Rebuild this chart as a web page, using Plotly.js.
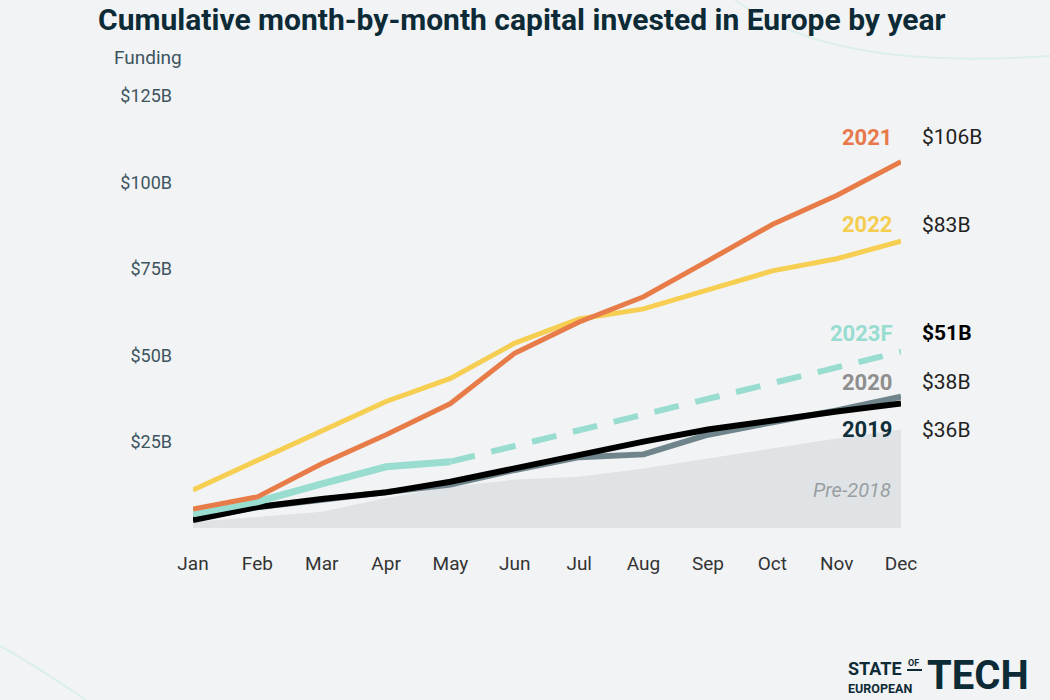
<!DOCTYPE html>
<html>
<head>
<meta charset="utf-8">
<script src="https://cdn.plot.ly/plotly-3.0.1.min.js"></script>
<style>
  html, body { margin:0; padding:0; background:#f2f3f5; }
  #wrap { position:relative; width:1050px; height:700px; }
  #deco { position:absolute; left:0; top:0; }
  #chart { position:absolute; left:0; top:0; width:1050px; height:700px; }
</style>
</head>
<body>
<div id="wrap">
  <svg id="deco" width="1050" height="700">
    <path d="M 735 0 C 800 48, 900 66, 1050 56" stroke="#dcefea" stroke-width="2" fill="none"/>
    <path d="M 0 646 C 30 662, 62 684, 86 700" stroke="#dcefea" stroke-width="2" fill="none"/>
  </svg>
  <div id="chart"></div>
</div>
<script>
const months = ['Jan','Feb','Mar','Apr','May','Jun','Jul','Aug','Sep','Oct','Nov','Dec'];

const pre2018 = [1.7, 3.2, 4.7, 8.7, 11.9, 14.0, 14.8, 17.2, 20.1, 23.0, 25.9, 28.5];
const y2019 = [2.3, 6.1, 8.4, 10.3, 13.4, 17.4, 21.3, 25.0, 28.5, 31.3, 33.7, 36];
const y2020 = [2.6, 6.0, 8.2, 10.3, 12.6, 16.8, 20.5, 21.3, 27.0, 30.6, 34.0, 38];
const y2021 = [5.5, 9.0, 18.6, 27.0, 36.0, 50.6, 59.6, 66.9, 77.3, 87.8, 96.2, 106];
const y2022 = [11.0, 19.5, 27.9, 36.6, 43.3, 53.5, 60.5, 63.4, 68.9, 74.4, 77.9, 83];
const months2023 = ['Jan','Feb','Mar','Apr','May'];
const y2023 = [4.1, 7.6, 12.8, 17.7, 19.2];
const months2023F = ['May','Dec'];
const y2023F = [19.2, 51];

const yTickVals = [25, 50, 75, 100, 125];
const yTickText = ['$25B', '$50B', '$75B', '$100B', '$125B'];

const endLabels = [
  {year:'2021', value:'$106B', color:'#e8784a', y:113.1, bold:false},
  {year:'2022', value:'$83B', color:'#f5cd4f', y:87.7, bold:false},
  {year:'2023F', value:'$51B', color:'#98ddd0', y:56.4, bold:true},
  {year:'2020', value:'$38B', color:'#8e8e8e', y:42.2, bold:false},
  {year:'2019', value:'$36B', color:'#0f2f3a', y:28.4, bold:false}
];

const traces = [
  {x: months, y: pre2018, type:'scatter', mode:'lines', fill:'tozeroy',
   fillcolor:'#dfe3e5', line:{width:0, color:'#dfe3e5'}, hoverinfo:'skip'},
  {x: months, y: y2020, type:'scatter', mode:'lines', line:{color:'#6f858b', width:6}, hoverinfo:'skip'},
  {x: months, y: y2019, type:'scatter', mode:'lines', line:{color:'#000000', width:6}, hoverinfo:'skip'},
  {x: months2023, y: y2023, type:'scatter', mode:'lines', line:{color:'#98ddd0', width:7}, hoverinfo:'skip'},
  {x: months2023F, y: y2023F, type:'scatter', mode:'lines', line:{color:'#98ddd0', width:6, dash:'25px,17px'}, hoverinfo:'skip'},
  {x: months, y: y2022, type:'scatter', mode:'lines', line:{color:'#f6cf52', width:5}, hoverinfo:'skip'},
  {x: months, y: y2021, type:'scatter', mode:'lines', line:{color:'#e87c48', width:5}, hoverinfo:'skip'}
];

const annotations = [];
endLabels.forEach(l => {
  annotations.push({xref:'paper', yref:'y', x:1, y:l.y, xanchor:'right', yanchor:'middle', xshift:-6,
    text:'<b>'+l.year+'</b>', showarrow:false, font:{family:'Roboto, sans-serif', size:22, color:l.color}});
  annotations.push({xref:'paper', yref:'y', x:1, y:l.y, xanchor:'left', yanchor:'middle', xshift:19,
    text: l.bold ? '<b>'+l.value+'</b>' : l.value, showarrow:false,
    font:{family:'Roboto, sans-serif', size:21, color: l.bold ? '#000000' : '#222222'}});
});
annotations.push({xref:'x', yref:'y', x:11, y:11, xanchor:'right', yanchor:'middle', xshift:-8,
  text:'<i>Pre-2018</i>', showarrow:false, font:{family:'Roboto, sans-serif', size:20, color:'#9a9fa3'}});
annotations.push({xref:'paper', yref:'paper', x:-0.0636, y:1.088, xanchor:'center', yanchor:'middle',
  text:'Funding', showarrow:false, font:{family:'Roboto, sans-serif', size:19, color:'#3d5560'}});
// logo
annotations.push({xref:'paper', yref:'paper', x:(846-193)/708, y:(528-668)/432, xanchor:'left', yanchor:'middle',
  text:'<b>STATE</b>', showarrow:false, font:{family:'Roboto, sans-serif', size:18, color:'#0d2b36'}});
annotations.push({xref:'paper', yref:'paper', x:(906-193)/708, y:(528-663)/432, xanchor:'left', yanchor:'middle',
  text:'<b>OF</b>', showarrow:false, font:{family:'Roboto, sans-serif', size:9, color:'#0d2b36'}});
annotations.push({xref:'paper', yref:'paper', x:(846-193)/708, y:(528-688)/432, xanchor:'left', yanchor:'middle',
  text:'<b>EUROPEAN</b>', showarrow:false, font:{family:'Roboto, sans-serif', size:12.5, color:'#0d2b36'}});
annotations.push({xref:'paper', yref:'paper', x:(925-193)/708, y:(528-675)/432, xanchor:'left', yanchor:'middle',
  text:'<b>TECH</b>', showarrow:false, font:{family:'Roboto, sans-serif', size:40, color:'#0d2b36'}});

const layout = {
  width:1050, height:700,
  paper_bgcolor:'rgba(0,0,0,0)', plot_bgcolor:'rgba(0,0,0,0)',
  margin:{l:193, r:149, t:96, b:172},
  showlegend:false,
  hovermode:false,
  title:{text:'<b>Cumulative month-by-month capital invested in Europe by year</b>',
    x:0.497, xanchor:'center', y:1-19/700, yanchor:'middle', yref:'container',
    font:{family:'Roboto, sans-serif', size:30, color:'#0d2b36'}},
  xaxis:{type:'category', range:[0,11], showgrid:false, zeroline:false, showline:false, ticks:'',
    ticklabelstandoff:22, tickfont:{family:'Roboto, sans-serif', size:19, color:'#333333'}},
  yaxis:{range:[0,125], showgrid:false, zeroline:false, showline:false, ticks:'',
    tickvals:yTickVals, ticktext:yTickText, ticklabelstandoff:20,
    tickfont:{family:'Roboto, sans-serif', size:18, color:'#3d5560'}},
  shapes:[
    {type:'line', xref:'paper', yref:'paper', x0:(907-193)/708, x1:(922-193)/708,
     y0:(528-670)/432, y1:(528-670)/432, line:{color:'#0d2b36', width:2}}
  ],
  annotations: annotations
};

Plotly.newPlot('chart', traces, layout, {displayModeBar:false, staticPlot:true});
</script>
</body>
</html>
